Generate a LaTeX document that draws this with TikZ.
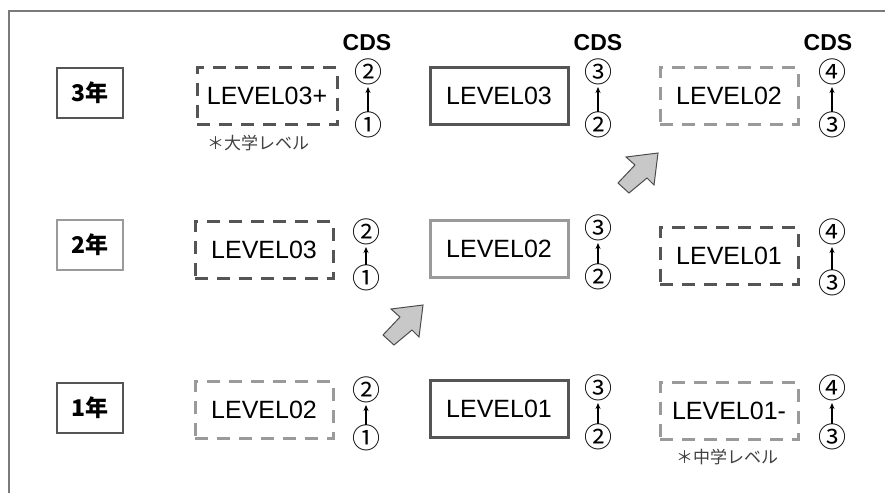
\documentclass[tikz,border=0pt]{standalone}
\usepackage{fontspec}
\setmainfont{Liberation Sans}
\newfontfamily\jp{Noto Sans CJK JP}
\usetikzlibrary{arrows.meta}
\definecolor{dk}{HTML}{555555}
\definecolor{lt}{HTML}{9A9A9A}
\definecolor{frame}{HTML}{7A7A7A}
\definecolor{af}{HTML}{C8C8C8}
\tikzset{
  yearbox/.style={draw=#1, line width=2.2pt, minimum width=66pt, minimum height=50pt, inner sep=0pt, font=\jp\bfseries\fontsize{23}{23}\selectfont},
  lvbox/.style={minimum width=138pt, minimum height=57pt, inner sep=0pt, font=\fontsize{25}{25}\selectfont},
  solidbox/.style={lvbox, draw=#1, line width=3pt},
  dashbox/.style={lvbox, draw=#1, line width=3pt, dash pattern=on 13pt off 9pt},
  cdslbl/.style={font=\bfseries\fontsize{23}{23}\selectfont, inner sep=0pt},
  circnum/.style={font=\jp\fontsize{28}{28}\selectfont, inner sep=0pt},
  uparrow/.style={-{Stealth[length=6pt,width=5pt]}, line width=1.4pt},
  note/.style={font=\jp\fontsize{17}{17}\selectfont, text=black!75, inner sep=0pt},
  blockarrow/.style={fill=af, draw=black!70, line width=1pt, line join=miter}
}
\begin{document}
\begin{tikzpicture}[x=1pt, y=-1pt]
\useasboundingbox (0,0) rectangle (885,493);
\draw[frame, line width=2.2pt] (885,11) -- (9,11) -- (9,493);

% year labels
\node[yearbox=dk] (y3) at (90,93) {3年};
\node[yearbox=lt] (y2) at (90,245) {2年};
\node[yearbox=dk] (y1) at (90,408) {1年};

% column 1
\node[dashbox=dk, minimum width=140pt] (c13) at (267,96) {LEVEL03+};
\node[dashbox=dk] (c12) at (264,250) {LEVEL03};
\node[dashbox=lt] (c11) at (264,410) {LEVEL02};
% column 2
\node[solidbox=dk] (c23) at (499,96) {LEVEL03};
\node[solidbox=lt] (c22) at (499,249) {LEVEL02};
\node[solidbox=dk] (c21) at (499,409) {LEVEL01};
% column 3
\node[dashbox=lt] (c33) at (729,96) {LEVEL02};
\node[dashbox=dk] (c32) at (729,256) {LEVEL01};
\node[dashbox=lt] (c31) at (729,411) {LEVEL01-};

% notes
\node[note] (n1) at (258,143) {＊大学レベル};
\node[note] (n2) at (727,457) {＊中学レベル};

% CDS headers
\node[cdslbl] (cds1) at (367,43) {CDS};
\node[cdslbl] (cds2) at (598,43) {CDS};
\node[cdslbl] (cds3) at (828,43) {CDS};

% circled numbers, column 1
\node[circnum] (a3t) at (368,72) {②};
\node[circnum] (a3b) at (368,125) {①};
\node[circnum] (a2t) at (366,232) {②};
\node[circnum] (a2b) at (366,278) {①};
\node[circnum] (a1t) at (366,390) {②};
\node[circnum] (a1b) at (366,438) {①};
% column 2
\node[circnum] (b3t) at (598,72) {③};
\node[circnum] (b3b) at (598,125) {②};
\node[circnum] (b2t) at (598,228) {③};
\node[circnum] (b2b) at (598,277) {②};
\node[circnum] (b1t) at (598,388) {③};
\node[circnum] (b1b) at (598,437) {②};
% column 3
\node[circnum] (d3t) at (832,72) {④};
\node[circnum] (d3b) at (832,125) {③};
\node[circnum] (d2t) at (832,232) {④};
\node[circnum] (d2b) at (832,283) {③};
\node[circnum] (d1t) at (832,388) {④};
\node[circnum] (d1b) at (832,437) {③};

\foreach \p in {a3,a2,a1,b3,b2,b1,d3,d2,d1}{
  \draw[uparrow] ([yshift=13pt]\p b.center) -- ([yshift=-15pt]\p t.center);
}

% block arrows
\foreach \tx/\ty in {423/305, 658/153}{
  \draw[blockarrow] (\tx,\ty) -- ++(-32,4) -- ++(9,8) -- ++(-17,18) -- ++(11,10) -- ++(18,-15) -- ++(7,7) -- cycle;
}
\end{tikzpicture}
\end{document}
